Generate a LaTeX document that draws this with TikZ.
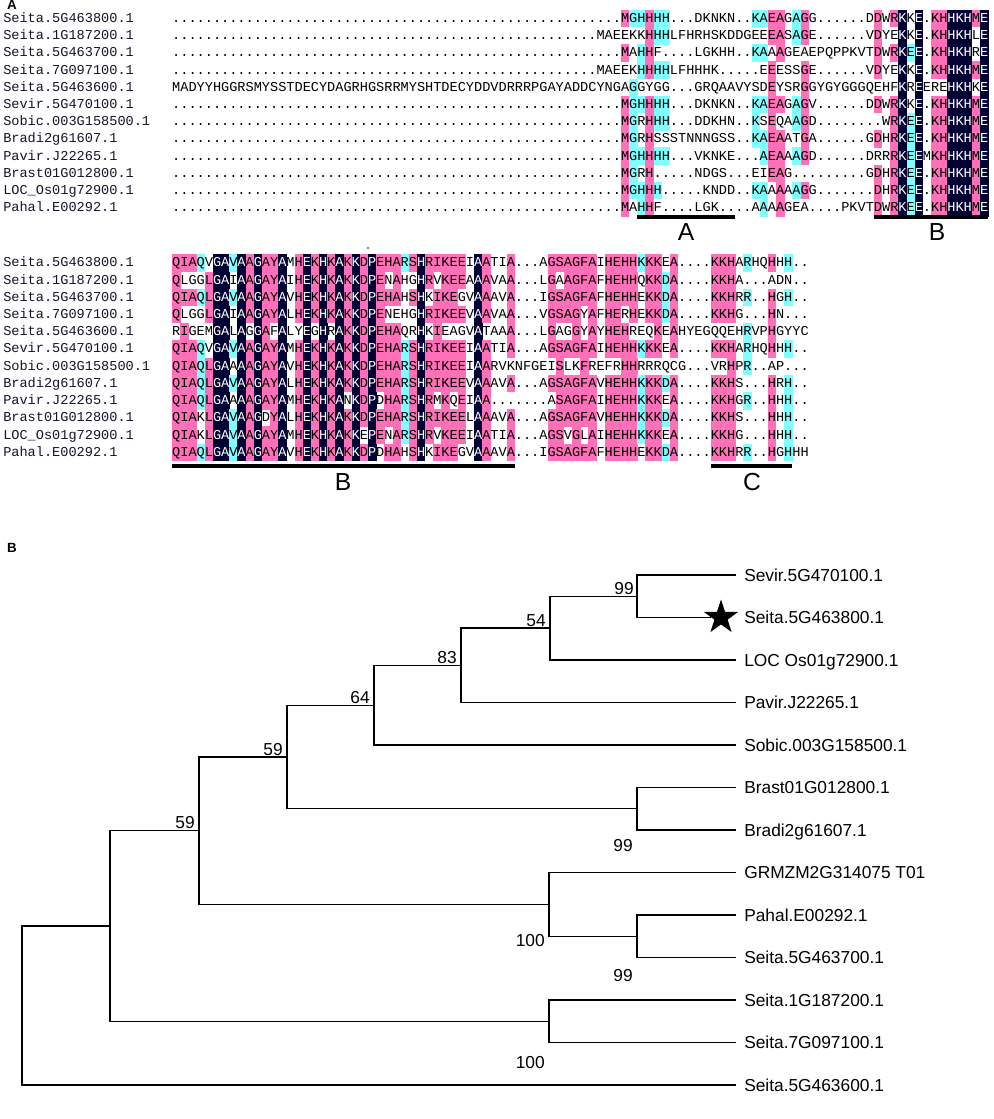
\documentclass[tikz,border=0pt]{standalone}
\usepackage{fontspec}
\setmainfont{Liberation Sans}
\newfontfamily\almonofont{Liberation Mono}
\usetikzlibrary{shapes.geometric}
\definecolor{alnavy}{RGB}{0,0,51}
\definecolor{alpink}{RGB}{255,112,184}
\definecolor{alcyan}{RGB}{128,255,255}
\definecolor{namec}{RGB}{20,20,45}
\newcommand\almono{\almonofont\fontsize{10.2}{12}\selectfont}
\newcommand\ALw{8.16}
\newcommand\ALh{17.2}
\newcommand\ALx{172.2}
\newcommand\ALcell[4]{\fill[#4] ({\ALx+(#1-1)*\ALw},{#3+(#2-1)*\ALh-\ALh/2}) rectangle ++(\ALw+0.3,\ALh+0.3);}
\newcommand\ALchar[5]{\node[alch,text=#5] (c#3x#2x#1) at ({\ALx+(#1-0.5)*\ALw},{#3+(#2-1)*\ALh+4}) {#4};}
\ExplSyntaxOn
\seq_new:N \l__al_rows_seq
\seq_new:N \l__al_col_seq
\int_new:N \l__al_max_int
\int_new:N \l__al_cnt_int
\int_new:N \l__al_n_int
\tl_new:N \l__al_cons_tl
\tl_new:N \l__al_level_tl
\tl_new:N \l__al_txt_tl
\cs_new:Npn \ALdots #1 { \prg_replicate:nn {#1} {.} }
\cs_new_protected:Npn \__al_column:nn #1 #2
  {
    \seq_clear:N \l__al_col_seq
    \seq_map_inline:Nn \l__al_rows_seq
      { \seq_put_right:Nx \l__al_col_seq { \str_item:nn {##1} {#1} } }
    \int_zero:N \l__al_max_int
    \tl_clear:N \l__al_cons_tl
    \seq_map_inline:Nn \l__al_col_seq
      {
        \str_if_eq:nnF {##1} {.}
          {
            \int_zero:N \l__al_cnt_int
            \seq_map_inline:Nn \l__al_col_seq
              { \str_if_eq:nnT {##1} {####1} { \int_incr:N \l__al_cnt_int } }
            \int_compare:nNnT \l__al_cnt_int > \l__al_max_int
              {
                \int_set_eq:NN \l__al_max_int \l__al_cnt_int
                \tl_set:Nn \l__al_cons_tl {##1}
              }
          }
      }
    \tl_clear:N \l__al_level_tl
    \int_compare:nNnTF \l__al_max_int = \l__al_n_int
      { \tl_set:Nn \l__al_level_tl { alnavy } }
      {
        \int_compare:nNnTF { 4 * \l__al_max_int } < { 3 * \l__al_n_int }
          {
            \int_compare:nNnF { 2 * \l__al_max_int } < { \l__al_n_int }
              { \tl_set:Nn \l__al_level_tl { alcyan } }
          }
          { \tl_set:Nn \l__al_level_tl { alpink } }
      }
    \str_if_eq:VnTF \l__al_level_tl { alnavy }
      { \tl_set:Nn \l__al_txt_tl { white } }
      { \tl_set:Nn \l__al_txt_tl { black } }
    \seq_map_indexed_inline:Nn \l__al_col_seq
      {
        \tl_if_empty:NTF \l__al_level_tl
          { \use:e { \exp_not:N \ALchar {#1} {##1} {#2} {##2} { black } } }
          {
            \str_if_eq:VnTF \l__al_cons_tl {##2}
              {
                \use:e { \exp_not:N \ALcell {#1} {##1} {#2} { \l__al_level_tl } }
                \use:e { \exp_not:N \ALchar {#1} {##1} {#2} {##2} { \l__al_txt_tl } }
              }
              { \use:e { \exp_not:N \ALchar {#1} {##1} {#2} {##2} { black } } }
          }
      }
  }
\NewDocumentCommand \DrawBlock { m m m }
  {
    \exp_args:NNx \seq_set_from_clist:Nn \l__al_rows_seq {#3}
    \int_set:Nn \l__al_n_int { \seq_count:N \l__al_rows_seq }
    \int_step_inline:nn {#2} { \__al_column:nn {##1} {#1} }
  }
\ExplSyntaxOff
\tikzset{
  alch/.style={font=\almono, inner sep=0pt, anchor=base},
  alname/.style={font=\almono, inner sep=0pt, anchor=base west, text=namec},
  uline/.style={line width=2.3pt},
  ullab/.style={font=\fontsize{18.5}{20}\selectfont, inner sep=0pt},
  panel/.style={font=\bfseries\fontsize{10}{12}\selectfont, inner sep=0pt},
  br/.style={line width=1pt},
  leaf/.style={anchor=base west, inner sep=0pt, font=\fontsize{13}{15}\selectfont},
  boot/.style={anchor=base east, inner sep=0pt, font=\fontsize{13}{15}\selectfont},
}
\begin{document}
\begin{tikzpicture}[x=0.75pt,y=-0.75pt]
\useasboundingbox (0,0) rectangle (993,1119);
\fill[white] (0,0) rectangle (993,1119);
% ---------- panel A ----------
\node[panel] (pA) at (12,5) {A};
\foreach \nm [count=\i] in {Seita.5G463800.1,Seita.1G187200.1,Seita.5G463700.1,Seita.7G097100.1,Seita.5G463600.1,Sevir.5G470100.1,Sobic.003G158500.1,Bradi2g61607.1,Pavir.J22265.1,Brast01G012800.1,LOC\_Os01g72900.1,Pahal.E00292.1}
{
  \node[alname] (na\i) at (3,{18.5+(\i-1)*17.2+4}) {\nm};
  \node[alname] (nb\i) at (3,{263+(\i-1)*17.2+4}) {\nm};
}
\DrawBlock{18.5}{100}{
\ALdots{55}MGHHHH...DKNKN..KAEAGAGG......DDWRKKE.KHHKHME,
\ALdots{52}MAEEKKHHHLFHRHSKDDGEEEASAGE......VDYEKKE.KHHKHLE,
\ALdots{55}MAHHF....LGKHH..KAAAGEAEPQPPKVTDWRKEE.KHHKHRE,
\ALdots{52}MAEEKHHHHLFHHHK.....EEESSGE......VDYEKKE.KHHKHME,
MADYYHGGRSMYSSTDECYDAGRHGSRRMYSHTDECYDDVDRRRPGAYADDCYNGAGGYGG...GRQAAVYSDEYSRGGYGYGGGQEHFKREEREHKHKE,
\ALdots{55}MGHHHH...DKNKN..KAEAGAGV......DDWRKKE.KHHKHME,
\ALdots{55}MGRHHH...DDKHN..KSEQAAGD........WRKEE.KHHKHME,
\ALdots{55}MGRHSSSTNNNGSS..KAEAATGA......GDHRKEE.KHHKHME,
\ALdots{55}MGHHHH...VKNKE...AEAAAGD......DRRRKEEMKHHKHME,
\ALdots{55}MGRH.....NDGS...EIEAG.........GDHRKEE.KHHKHME,
\ALdots{55}MGHHH.....KNDD..KAAAAAGG.......DHRKEE.KHHKHME,
\ALdots{55}MAHHF....LGK....AAAAGEA....PKVTDWRKEE.KHHKHME}
\DrawBlock{263}{78}{
QIAQVGAVAAGAYAMHEKHKAKKDPEHARSHRIKEEIAATIA...AGSAGFAIHEHHKKKEA....KKHARHQHHH..,
QLGGLGAIAAGAYAIHEKHKAKKDPENAHGHRVKEEAAAVAA...LGAAGFAFHEHHQKKDA....KKHA...ADN..,
QIAQLGAVAAGAYAVHEKHKAKKDPEHAHSHKIKEGVAAAVA...IGSAGFAFHEHHEKKDA....KKHRR..HGH..,
QLGGLGAIAAGAYALHEKHKAKKDPENEHGHRIKEEVAAVAA...VGSAGYAFHERHEKKDA....KKHG...HN...,
RIGEMGALAGGAFALYEGHRAKKDPEHAQRHKIEAGVATAAA...LGAGGYAYHEHREQKEAHYEGQQEHRVPHGYYC,
QIAQVGAVAAGAYAMHEKHKAKKDPEHARSHRIKEEIAATIA...AGSAGFAIHEHHKKKEA....KKHARHQHHH..,
QIAQLGAAAAGAYAVHEKHKAKKDPEHARSHRIKEEIAARVKNFGEISLKFREFRHHRRRQCG...VRHPR..AP...,
QIAQLGAVAAGAYALHEKHKAKKDPEHARSHRIKEEVAAAVA...AGSAGFAVHEHHKKKDA....KKHS...HRH..,
QIAQLGAAAAGAYAMHEKHKANKDPDHARSHRMKQEIAA.......ASAGFAIHEHHKKKEA....KKHGR..HHH..,
QIAKLGAVAAGDYALHEKHKAKKDPEHARSHRIKEELAAAVA...AGSAGFAVHEHHKKKDA....KKHS...HHH..,
QIAKLGAVAAGAYAMHEKHKAKKEPENARSHRVKEEIAATIA...AGSVGLAIHEHHKKKEA....KKHG...HHH..,
QIAQLGAVAAGAYAVHEKHKAKKDPDHAHSHKIKEGVAAAVA...IGSAGFAFHEHHEKKDA....KKHRR..HGHHH}
% underlines and motif letters
\coordinate (uA1) at (637.3,217); \coordinate (uA2) at (735.2,217);
\coordinate (uB1) at (874,217);   \coordinate (uB2) at (988.2,217);
\coordinate (uB3) at (172.2,466); \coordinate (uB4) at (514.9,466);
\coordinate (uC1) at (710.8,466); \coordinate (uC2) at (792.4,466);
\draw[uline] (uA1) -- (uA2);
\draw[uline] (uB1) -- (uB2);
\draw[uline] (uB3) -- (uB4);
\draw[uline] (uC1) -- (uC2);
\node[ullab] (mA) at (686,232) {A};
\node[ullab] (mB1) at (937,232) {B};
\node[ullab] (mB2) at (343,482) {B};
\node[ullab] (mC) at (752,482) {C};
\fill (368,248) circle (0.8);
% ---------- panel B : tree ----------
\node[panel] (pB) at (12,548) {B};
\coordinate (n1) at (637,596.25);
\coordinate (n2) at (550,628.1);
\coordinate (n3) at (461,665.3);
\coordinate (n4) at (374,705.2);
\coordinate (n6) at (637,808.75);
\coordinate (n5) at (287,757);
\coordinate (n9) at (637,936.25);
\coordinate (n8) at (549,904.4);
\coordinate (n7) at (199,830.7);
\coordinate (n11) at (549,1021.25);
\coordinate (n10) at (110,926);
\coordinate (root) at (22,1005.5);
\foreach \k/\yy in {1/575,3/660,4/702.5,5/745,6/787.5,7/830,8/872.5,9/915,10/957.5,11/1000,12/1042.5,13/1085}
  \coordinate (t\k) at (736,\yy);
\node[star,star points=5,star point ratio=2.6,fill=black,inner sep=0pt,minimum size=27pt] (st) at (721,617.5) {};
\draw[br] (n1) |- (t1);  \draw[br] (n1) |- (st);
\draw[br] (n2) |- (n1);  \draw[br] (n2) |- (t3);
\draw[br] (n3) |- (n2);  \draw[br] (n3) |- (t4);
\draw[br] (n4) |- (n3);  \draw[br] (n4) |- (t5);
\draw[br] (n5) |- (n4);  \draw[br] (n5) |- (n6);
\draw[br] (n6) |- (t6);  \draw[br] (n6) |- (t7);
\draw[br] (n7) |- (n5);  \draw[br] (n7) |- (n8);
\draw[br] (n8) |- (t8);  \draw[br] (n8) |- (n9);
\draw[br] (n9) |- (t9);  \draw[br] (n9) |- (t10);
\draw[br] (n10) |- (n7); \draw[br] (n10) |- (n11);
\draw[br] (n11) |- (t11); \draw[br] (n11) |- (t12);
\draw[br] (root) |- (n10); \draw[br] (root) |- (t13);
\node[leaf] (L1) at (744,581.2) {Sevir.5G470100.1};
\node[leaf] (L2) at (744,623.7) {Seita.5G463800.1};
\node[leaf] (L3) at (744,666.2) {LOC Os01g72900.1};
\node[leaf] (L4) at (744,708.7) {Pavir.J22265.1};
\node[leaf] (L5) at (744,751.2) {Sobic.003G158500.1};
\node[leaf] (L6) at (744,793.7) {Brast01G012800.1};
\node[leaf] (L7) at (744,836.2) {Bradi2g61607.1};
\node[leaf] (L8) at (744,878.7) {GRMZM2G314075 T01};
\node[leaf] (L9) at (744,921.2) {Pahal.E00292.1};
\node[leaf] (L10) at (744,963.7) {Seita.5G463700.1};
\node[leaf] (L11) at (744,1006.2) {Seita.1G187200.1};
\node[leaf] (L12) at (744,1048.7) {Seita.7G097100.1};
\node[leaf] (L13) at (744,1091.2) {Seita.5G463600.1};
\node[boot] (b1) at (634,594) {99};
\node[boot] (b2) at (546,626) {54};
\node[boot] (b3) at (457,663) {83};
\node[boot] (b4) at (370,703) {64};
\node[boot] (b5) at (283,755) {59};
\node[boot] (b7) at (195,828) {59};
\node[boot] (b6) at (633,851) {99};
\node[boot] (b8) at (545,946) {100};
\node[boot] (b9) at (633,981) {99};
\node[boot] (b11) at (545,1068) {100};
\end{tikzpicture}
\end{document}
